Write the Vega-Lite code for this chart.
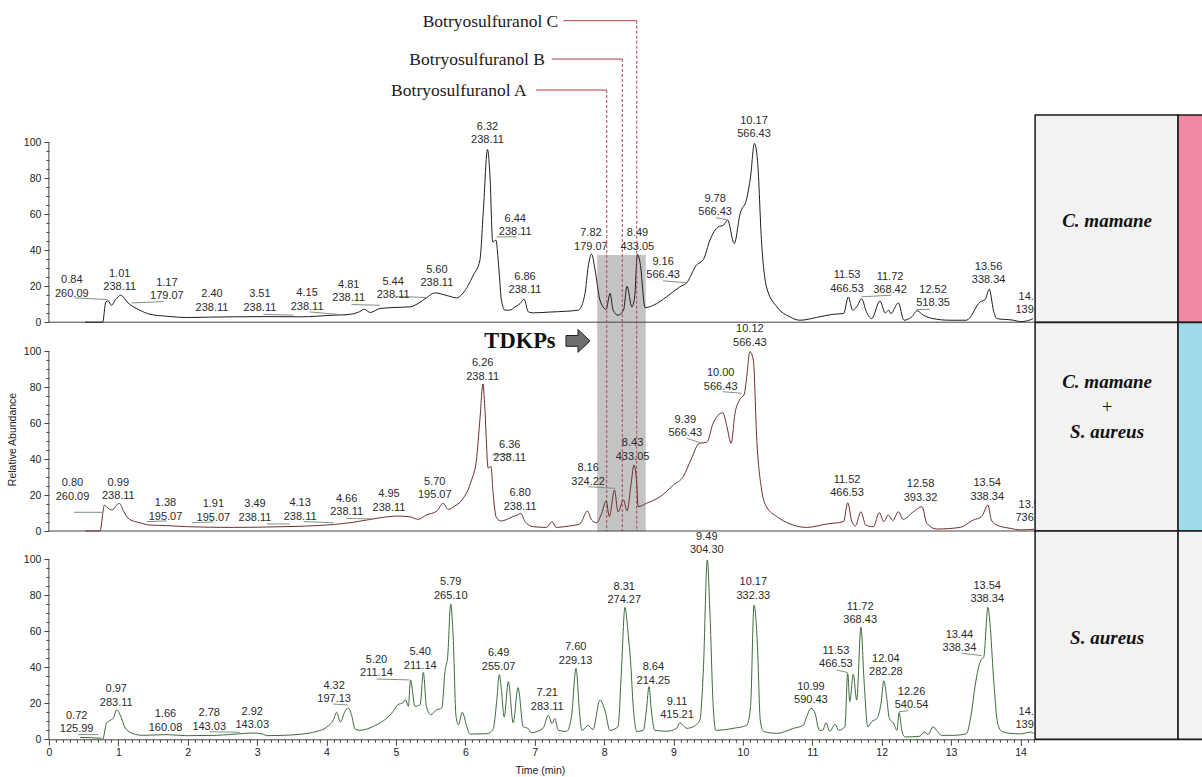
{
"$schema":"https://vega.github.io/schema/vega-lite/v6.json",
"width":1153.1,"height":739.3,
"autosize":{"type":"none"},
"padding":{"left":48.9,"top":0,"right":0,"bottom":37.7},
"background":"#ffffff",
"config":{"view":{"stroke":null},"text":{"font":"Liberation Sans"},"axis":{"labelFont":"Liberation Sans","titleFont":"Liberation Sans"}},
"data":{"values":[{}]},
"datasets":{
"p1":[{"t":0.52,"v":0},{"t":0.775,"v":0},{"t":0.82,"v":11.3},{"t":0.855,"v":11.9},{"t":0.9,"v":9.4},{"t":0.96,"v":12.5},{"t":1.035,"v":15},{"t":1.14,"v":10.7},{"t":1.31,"v":6.7},{"t":1.457,"v":4.4},{"t":1.7,"v":3.3},{"t":1.985,"v":2.6},{"t":2.3,"v":2.8},{"t":2.66,"v":3.0},{"t":3.1,"v":3.1},{"t":3.62,"v":3.0},{"t":4.1,"v":3.9},{"t":4.34,"v":4.4},{"t":4.48,"v":5.9},{"t":4.545,"v":7.2},{"t":4.63,"v":5.4},{"t":4.77,"v":7.6},{"t":5.0,"v":8.2},{"t":5.2,"v":8.5},{"t":5.32,"v":10.4},{"t":5.44,"v":13.5},{"t":5.56,"v":16.3},{"t":5.68,"v":15.4},{"t":5.8,"v":14.1},{"t":5.875,"v":13.5},{"t":5.97,"v":16.3},{"t":6.115,"v":26.1},{"t":6.21,"v":34.4},{"t":6.26,"v":62},{"t":6.32,"v":96},{"t":6.356,"v":80.7},{"t":6.395,"v":44.6},{"t":6.44,"v":45.6},{"t":6.485,"v":29},{"t":6.52,"v":12.3},{"t":6.57,"v":6.7},{"t":6.64,"v":6.7},{"t":6.716,"v":8.5},{"t":6.79,"v":10.4},{"t":6.846,"v":12.8},{"t":6.91,"v":5.7},{"t":6.98,"v":5.2},{"t":7.2,"v":5.6},{"t":7.46,"v":6.1},{"t":7.63,"v":6.7},{"t":7.725,"v":16},{"t":7.77,"v":30.7},{"t":7.82,"v":37.8},{"t":7.87,"v":29},{"t":7.94,"v":12.3},{"t":8.03,"v":7.2},{"t":8.085,"v":16},{"t":8.13,"v":6.7},{"t":8.2,"v":3.9},{"t":8.28,"v":6.7},{"t":8.33,"v":20},{"t":8.4,"v":8.5},{"t":8.44,"v":14},{"t":8.48,"v":37.8},{"t":8.52,"v":32.6},{"t":8.59,"v":8.1},{"t":8.71,"v":9.4},{"t":8.9,"v":14.1},{"t":9.09,"v":19.6},{"t":9.19,"v":21.9},{"t":9.33,"v":31.7},{"t":9.43,"v":34.8},{"t":9.525,"v":45.6},{"t":9.645,"v":53},{"t":9.72,"v":53.9},{"t":9.78,"v":56.7},{"t":9.875,"v":43.7},{"t":9.96,"v":60.4},{"t":10.055,"v":68.7},{"t":10.11,"v":80.7},{"t":10.165,"v":99.3},{"t":10.21,"v":90},{"t":10.27,"v":43.7},{"t":10.34,"v":19.6},{"t":10.49,"v":8.5},{"t":10.68,"v":2.9},{"t":10.82,"v":1.1},{"t":11.06,"v":2.6},{"t":11.3,"v":4.4},{"t":11.45,"v":4.8},{"t":11.52,"v":14},{"t":11.58,"v":6.7},{"t":11.64,"v":8.5},{"t":11.71,"v":13},{"t":11.78,"v":5.7},{"t":11.855,"v":2},{"t":11.975,"v":11.8},{"t":12.05,"v":5.2},{"t":12.1,"v":6.7},{"t":12.13,"v":4.8},{"t":12.24,"v":10.7},{"t":12.32,"v":1.1},{"t":12.43,"v":2.9},{"t":12.51,"v":6.3},{"t":12.6,"v":3.9},{"t":12.74,"v":2},{"t":12.98,"v":1.1},{"t":13.22,"v":1.1},{"t":13.42,"v":11.3},{"t":13.49,"v":12.6},{"t":13.55,"v":18.3},{"t":13.61,"v":6.7},{"t":13.66,"v":2},{"t":13.9,"v":1.1},{"t":14.0,"v":0.3},{"t":14.1,"v":0.8},{"t":14.18,"v":2}],
"p2":[{"t":0.52,"v":0},{"t":0.736,"v":0},{"t":0.8,"v":14.4},{"t":0.83,"v":13.5},{"t":0.905,"v":11.7},{"t":1.015,"v":15.4},{"t":1.08,"v":10.7},{"t":1.16,"v":6.5},{"t":1.31,"v":4.6},{"t":1.457,"v":3.3},{"t":1.7,"v":3.0},{"t":1.985,"v":2.4},{"t":2.65,"v":2.0},{"t":3.37,"v":2.4},{"t":3.86,"v":3.0},{"t":4.34,"v":4.6},{"t":4.58,"v":6.1},{"t":4.82,"v":7.6},{"t":5.01,"v":8.3},{"t":5.2,"v":7.9},{"t":5.32,"v":6.5},{"t":5.44,"v":8.9},{"t":5.59,"v":11.1},{"t":5.68,"v":15.4},{"t":5.755,"v":12},{"t":5.85,"v":13.9},{"t":5.97,"v":18.1},{"t":6.09,"v":28.3},{"t":6.16,"v":39.4},{"t":6.21,"v":61.7},{"t":6.255,"v":81.7},{"t":6.28,"v":69.3},{"t":6.33,"v":35},{"t":6.37,"v":35.9},{"t":6.4,"v":21.1},{"t":6.45,"v":7.2},{"t":6.52,"v":5.6},{"t":6.59,"v":6.3},{"t":6.69,"v":8.1},{"t":6.75,"v":8.8},{"t":6.8,"v":9.8},{"t":6.86,"v":5.2},{"t":6.98,"v":2.4},{"t":7.17,"v":2},{"t":7.25,"v":5.2},{"t":7.31,"v":2},{"t":7.5,"v":2.8},{"t":7.65,"v":3.9},{"t":7.76,"v":11.1},{"t":7.82,"v":6.1},{"t":7.89,"v":4.6},{"t":7.965,"v":9.8},{"t":8.03,"v":16.7},{"t":8.075,"v":8},{"t":8.15,"v":22.8},{"t":8.2,"v":10.7},{"t":8.28,"v":17.2},{"t":8.33,"v":11.1},{"t":8.39,"v":26.5},{"t":8.43,"v":36.7},{"t":8.47,"v":26.5},{"t":8.49,"v":13.5},{"t":8.61,"v":15.4},{"t":8.81,"v":19.1},{"t":9.0,"v":25.6},{"t":9.14,"v":30.2},{"t":9.26,"v":40.4},{"t":9.37,"v":48.7},{"t":9.48,"v":49.3},{"t":9.57,"v":59.8},{"t":9.71,"v":65.7},{"t":9.77,"v":57.9},{"t":9.83,"v":48.7},{"t":9.886,"v":65.4},{"t":9.95,"v":72.8},{"t":10.02,"v":76.1},{"t":10.055,"v":85.7},{"t":10.1,"v":99.6},{"t":10.15,"v":95},{"t":10.2,"v":50.6},{"t":10.27,"v":22.8},{"t":10.34,"v":13.5},{"t":10.49,"v":8},{"t":10.68,"v":3.9},{"t":10.92,"v":2},{"t":11.21,"v":3.9},{"t":11.45,"v":5.2},{"t":11.51,"v":15.7},{"t":11.57,"v":5.2},{"t":11.62,"v":2.8},{"t":11.7,"v":10.7},{"t":11.77,"v":3.3},{"t":11.88,"v":2.4},{"t":11.965,"v":10.2},{"t":12.03,"v":5.2},{"t":12.095,"v":8.9},{"t":12.16,"v":5.8},{"t":12.24,"v":10.7},{"t":12.31,"v":6.5},{"t":12.455,"v":10.7},{"t":12.58,"v":13.5},{"t":12.65,"v":4.3},{"t":12.79,"v":1.1},{"t":13.13,"v":2},{"t":13.32,"v":6.1},{"t":13.44,"v":8},{"t":13.53,"v":14.4},{"t":13.58,"v":6.1},{"t":13.66,"v":3.3},{"t":13.85,"v":1.5},{"t":14.0,"v":0.6},{"t":14.2,"v":1}],
"p3":[{"t":0.45,"v":1},{"t":0.74,"v":0.6},{"t":0.775,"v":0},{"t":0.83,"v":9},{"t":0.88,"v":10.5},{"t":0.93,"v":11.8},{"t":0.977,"v":16.4},{"t":1.025,"v":13.7},{"t":1.1,"v":6.3},{"t":1.216,"v":3.1},{"t":1.36,"v":2.2},{"t":1.7,"v":2.6},{"t":1.985,"v":2},{"t":2.42,"v":2.2},{"t":2.75,"v":3.1},{"t":2.945,"v":3.5},{"t":3.09,"v":2.8},{"t":3.14,"v":2},{"t":3.38,"v":2.2},{"t":3.62,"v":2.8},{"t":3.86,"v":4.4},{"t":4.0,"v":6.7},{"t":4.1,"v":10.9},{"t":4.146,"v":15},{"t":4.2,"v":9.6},{"t":4.266,"v":15.5},{"t":4.31,"v":17.4},{"t":4.36,"v":13.7},{"t":4.41,"v":5.7},{"t":4.48,"v":5},{"t":4.675,"v":7.2},{"t":4.96,"v":15.5},{"t":5.03,"v":19.3},{"t":5.1,"v":20.2},{"t":5.14,"v":22},{"t":5.18,"v":18.3},{"t":5.21,"v":33},{"t":5.275,"v":18.3},{"t":5.35,"v":19.3},{"t":5.395,"v":37.1},{"t":5.44,"v":18.3},{"t":5.5,"v":13.7},{"t":5.59,"v":16.4},{"t":5.66,"v":17.4},{"t":5.71,"v":38.6},{"t":5.746,"v":46},{"t":5.79,"v":75.2},{"t":5.825,"v":57},{"t":5.866,"v":12.8},{"t":5.9,"v":8.1},{"t":5.957,"v":15},{"t":6.02,"v":7.2},{"t":6.07,"v":2.9},{"t":6.31,"v":3.1},{"t":6.4,"v":5.4},{"t":6.45,"v":20.2},{"t":6.49,"v":35.9},{"t":6.52,"v":27.6},{"t":6.56,"v":12.3},{"t":6.62,"v":32},{"t":6.69,"v":9.2},{"t":6.76,"v":28.7},{"t":6.835,"v":7},{"t":6.9,"v":6.1},{"t":6.95,"v":3.7},{"t":7.12,"v":6.1},{"t":7.196,"v":13.4},{"t":7.25,"v":8.8},{"t":7.29,"v":11.5},{"t":7.34,"v":5},{"t":7.46,"v":4.4},{"t":7.53,"v":12.6},{"t":7.595,"v":39.4},{"t":7.645,"v":15.5},{"t":7.68,"v":5},{"t":7.77,"v":7.7},{"t":7.84,"v":5.4},{"t":7.94,"v":21.8},{"t":8.01,"v":16.3},{"t":8.085,"v":5},{"t":8.2,"v":7},{"t":8.25,"v":38.5},{"t":8.3,"v":73.3},{"t":8.35,"v":57},{"t":8.38,"v":44},{"t":8.42,"v":18.1},{"t":8.47,"v":4.4},{"t":8.565,"v":5},{"t":8.61,"v":16.3},{"t":8.647,"v":29.3},{"t":8.68,"v":16.3},{"t":8.73,"v":5},{"t":8.9,"v":4.5},{"t":9.045,"v":6.1},{"t":9.09,"v":9.2},{"t":9.19,"v":6.1},{"t":9.285,"v":7},{"t":9.38,"v":10.7},{"t":9.43,"v":38.5},{"t":9.487,"v":99.6},{"t":9.525,"v":70},{"t":9.57,"v":20},{"t":9.61,"v":5},{"t":9.86,"v":6.1},{"t":10.055,"v":7.8},{"t":10.11,"v":18.1},{"t":10.16,"v":74.6},{"t":10.21,"v":51.5},{"t":10.25,"v":10.7},{"t":10.295,"v":4.4},{"t":10.49,"v":3.3},{"t":10.73,"v":6.1},{"t":10.87,"v":7.8},{"t":10.92,"v":12.6},{"t":10.98,"v":17.2},{"t":11.04,"v":14.4},{"t":11.1,"v":5},{"t":11.15,"v":5},{"t":11.197,"v":9.2},{"t":11.25,"v":4.4},{"t":11.33,"v":8.3},{"t":11.38,"v":5},{"t":11.47,"v":7},{"t":11.51,"v":36.6},{"t":11.54,"v":20.9},{"t":11.59,"v":36.1},{"t":11.64,"v":21.8},{"t":11.7,"v":62.2},{"t":11.75,"v":29.4},{"t":11.8,"v":7},{"t":11.855,"v":9.8},{"t":11.93,"v":11.6},{"t":11.99,"v":20},{"t":12.03,"v":32.5},{"t":12.07,"v":23.7},{"t":12.11,"v":11.6},{"t":12.17,"v":9},{"t":12.22,"v":5},{"t":12.25,"v":14.8},{"t":12.29,"v":5},{"t":12.335,"v":1.3},{"t":12.55,"v":1.7},{"t":12.61,"v":4.1},{"t":12.67,"v":2.8},{"t":12.74,"v":7},{"t":12.79,"v":5},{"t":12.86,"v":2.2},{"t":13.03,"v":2.2},{"t":13.22,"v":3.1},{"t":13.29,"v":14.1},{"t":13.35,"v":30.7},{"t":13.41,"v":42},{"t":13.44,"v":44.6},{"t":13.47,"v":45.6},{"t":13.53,"v":73.3},{"t":13.56,"v":64.4},{"t":13.61,"v":34.8},{"t":13.67,"v":9},{"t":13.73,"v":4.4},{"t":13.85,"v":3.3},{"t":14.0,"v":3},{"t":14.15,"v":4},{"t":14.2,"v":3}],
"lab1":[{"t":0.33,"v":23.3,"rt":"0.84","mz":"260.09"},{"t":1.02,"v":26.7,"rt":"1.01","mz":"238.11"},{"t":1.7,"v":21.8,"rt":"1.17","mz":"179.07"},{"t":2.35,"v":15.4,"rt":"2.40","mz":"238.11"},{"t":3.04,"v":15.4,"rt":"3.51","mz":"238.11"},{"t":3.72,"v":16.1,"rt":"4.15","mz":"238.11"},{"t":4.32,"v":20.6,"rt":"4.81","mz":"238.11"},{"t":4.96,"v":22.4,"rt":"5.44","mz":"238.11"},{"t":5.59,"v":28.9,"rt":"5.60","mz":"238.11"},{"t":6.32,"v":108.5,"rt":"6.32","mz":"238.11"},{"t":6.72,"v":57.6,"rt":"6.44","mz":"238.11"},{"t":6.86,"v":25.2,"rt":"6.86","mz":"238.11"},{"t":7.81,"v":49.3,"rt":"7.82","mz":"179.07"},{"t":8.48,"v":49.3,"rt":"8.49","mz":"433.05"},{"t":8.85,"v":33.5,"rt":"9.16","mz":"566.43"},{"t":9.6,"v":68.7,"rt":"9.78","mz":"566.43"},{"t":10.16,"v":111.7,"rt":"10.17","mz":"566.43"},{"t":11.5,"v":26.1,"rt":"11.53","mz":"466.53"},{"t":12.12,"v":25.2,"rt":"11.72","mz":"368.42"},{"t":12.74,"v":17.8,"rt":"12.52","mz":"518.35"},{"t":13.54,"v":30.7,"rt":"13.56","mz":"338.34"},{"t":14.17,"v":14.0,"rt":"14.19","mz":"139.10"}],
"lab2":[{"t":0.34,"v":26.5,"rt":"0.80","mz":"260.09"},{"t":1.0,"v":26.8,"rt":"0.99","mz":"238.11"},{"t":1.68,"v":15.4,"rt":"1.38","mz":"195.07"},{"t":2.37,"v":14.8,"rt":"1.91","mz":"195.07"},{"t":2.97,"v":14.8,"rt":"3.49","mz":"238.11"},{"t":3.62,"v":15.4,"rt":"4.13","mz":"238.11"},{"t":4.29,"v":17.8,"rt":"4.66","mz":"238.11"},{"t":4.9,"v":20.4,"rt":"4.95","mz":"238.11"},{"t":5.56,"v":27.4,"rt":"5.70","mz":"195.07"},{"t":6.25,"v":93.2,"rt":"6.26","mz":"238.11"},{"t":6.64,"v":47.8,"rt":"6.36","mz":"238.11"},{"t":6.79,"v":20.9,"rt":"6.80","mz":"238.11"},{"t":7.77,"v":34.8,"rt":"8.16","mz":"324.22"},{"t":8.41,"v":48.7,"rt":"8.43","mz":"433.05"},{"t":9.17,"v":61.7,"rt":"9.39","mz":"566.43"},{"t":9.68,"v":87.6,"rt":"10.00","mz":"566.43"},{"t":10.1,"v":112,"rt":"10.12","mz":"566.43"},{"t":11.5,"v":28.3,"rt":"11.52","mz":"466.53"},{"t":12.56,"v":25.9,"rt":"12.58","mz":"393.32"},{"t":13.52,"v":26.5,"rt":"13.54","mz":"338.34"},{"t":14.17,"v":14.4,"rt":"13.98","mz":"736.52"}],
"lab3":[{"t":0.4,"v":12.9,"rt":"0.72","mz":"125.99"},{"t":0.97,"v":27.8,"rt":"0.97","mz":"283.11"},{"t":1.68,"v":13.9,"rt":"1.66","mz":"160.08"},{"t":2.31,"v":14.4,"rt":"2.78","mz":"143.03"},{"t":2.93,"v":15.3,"rt":"2.92","mz":"143.03"},{"t":4.11,"v":29.8,"rt":"4.32","mz":"197.13"},{"t":4.72,"v":44.1,"rt":"5.20","mz":"211.14"},{"t":5.35,"v":48.3,"rt":"5.40","mz":"211.14"},{"t":5.79,"v":87.2,"rt":"5.79","mz":"265.10"},{"t":6.48,"v":47.8,"rt":"6.49","mz":"255.07"},{"t":7.18,"v":25.6,"rt":"7.21","mz":"283.11"},{"t":7.59,"v":51.1,"rt":"7.60","mz":"229.13"},{"t":8.29,"v":84.8,"rt":"8.31","mz":"274.27"},{"t":8.71,"v":40,"rt":"8.64","mz":"214.25"},{"t":9.05,"v":20.9,"rt":"9.11","mz":"415.21"},{"t":9.48,"v":112.6,"rt":"9.49","mz":"304.30"},{"t":10.15,"v":87.2,"rt":"10.17","mz":"332.33"},{"t":10.98,"v":29.2,"rt":"10.99","mz":"590.43"},{"t":11.34,"v":49.2,"rt":"11.53","mz":"466.53"},{"t":11.69,"v":73.7,"rt":"11.72","mz":"368.43"},{"t":12.06,"v":44.6,"rt":"12.04","mz":"282.28"},{"t":12.43,"v":26.4,"rt":"12.26","mz":"540.54"},{"t":13.12,"v":57.9,"rt":"13.44","mz":"338.34"},{"t":13.52,"v":85.3,"rt":"13.54","mz":"338.34"},{"t":14.17,"v":15.2,"rt":"14.19","mz":"139.10"}],
"ld1":[{"t":0.376,"v":13.5,"t2":0.841,"v2":12.6},{"t":1.193,"v":10.7,"t2":1.658,"v2":11.5},{"t":3.09,"v":4.4,"t2":3.52,"v2":3.9},{"t":3.76,"v":5.7,"t2":4.29,"v2":3.9},{"t":4.36,"v":9.8,"t2":4.77,"v2":9.4},{"t":4.99,"v":14.4,"t2":5.44,"v2":13.7},{"t":6.45,"v":47.4,"t2":6.74,"v2":47.4},{"t":8.85,"v":23.0,"t2":9.19,"v2":21.9},{"t":9.61,"v":58.1,"t2":9.79,"v2":56.7},{"t":11.71,"v":14.1,"t2":12.14,"v2":15},{"t":12.5,"v":7.0,"t2":12.7,"v2":7.2}],
"ld2":[{"t":0.36,"v":10.4,"t2":0.78,"v2":10.4},{"t":1.41,"v":5.2,"t2":1.7,"v2":5.6},{"t":2.06,"v":4.6,"t2":2.37,"v2":5.0},{"t":3.14,"v":3.9,"t2":3.47,"v2":3.9},{"t":3.67,"v":5.2,"t2":4.1,"v2":4.6},{"t":4.29,"v":7.0,"t2":4.65,"v2":6.7},{"t":6.39,"v":42.2,"t2":6.67,"v2":42.6},{"t":7.77,"v":24.6,"t2":8.16,"v2":23.7},{"t":9.19,"v":51.5,"t2":9.38,"v2":49.1},{"t":9.71,"v":77.4,"t2":9.98,"v2":76.5}],
"ld3":[{"t":0.42,"v":2.6,"t2":0.71,"v2":2.6},{"t":2.32,"v":4.2,"t2":2.75,"v2":3.9},{"t":4.1,"v":19.6,"t2":4.31,"v2":19.0},{"t":4.72,"v":33.5,"t2":5.19,"v2":33.0},{"t":11.35,"v":38.5,"t2":11.51,"v2":37.1},{"t":12.25,"v":15.3,"t2":12.38,"v2":15.9},{"t":13.15,"v":47.8,"t2":13.44,"v2":46.5}],
"ann":[{"label":"Botryosulfuranol A","tx":6.885,"ty":128.6,"x1":7.019,"x2":8.038,"y":129.0},{"label":"Botryosulfuranol B","tx":7.148,"ty":145.7,"x1":7.245,"x2":8.262,"y":146.2},{"label":"Botryosulfuranol C","tx":7.34,"ty":166.9,"x1":7.412,"x2":8.47,"y":167.5}]
},
"layer":[
{"layer":[
 {"mark":{"type":"rect","color":"#c4c4c4"},"encoding":{"x":{"datum":7.9,"type":"quantitative","scale":{"domain":[0,16.615],"nice":false,"zero":false},"axis":null},"x2":{"datum":8.6},"y":{"datum":37.3,"type":"quantitative","scale":{"domain":[-231.72,179.0],"nice":false,"zero":false},"axis":null},"y2":{"datum":-116.1}}},
 {"mark":{"type":"rule","color":"#444444","strokeWidth":1},"encoding":{"x":{"datum":0,"type":"quantitative","axis":null},"x2":{"datum":14.21},"y":{"datum":0,"type":"quantitative","axis":null}}},
 {"mark":{"type":"rule","color":"#444444","strokeWidth":1},"encoding":{"x":{"datum":0,"type":"quantitative","axis":null},"y":{"datum":0,"type":"quantitative","axis":null},"y2":{"datum":100}}},
 {"data":{"name":"p1"},"mark":{"type":"line","color":"#1e1e1e","strokeWidth":1,"interpolate":"monotone"},"encoding":{"x":{"field":"t","type":"quantitative","axis":null},"y":{"field":"v","type":"quantitative","axis":null}}},
 {"data":{"name":"ld1"},"mark":{"type":"rule","color":"#7d927d","strokeWidth":1},"encoding":{"x":{"field":"t","type":"quantitative","axis":null},"x2":{"field":"t2"},"y":{"field":"v","type":"quantitative","axis":null},"y2":{"field":"v2"}}},
 {"data":{"name":"lab1"},"mark":{"type":"text","fontSize":11,"color":"#2a2a2a","align":"center","baseline":"middle"},"encoding":{"x":{"field":"t","type":"quantitative","axis":null},"y":{"field":"v","type":"quantitative","axis":null},"text":{"field":"rt"}}},
 {"data":{"name":"lab1"},"mark":{"type":"text","fontSize":11,"color":"#2a2a2a","align":"center","baseline":"middle","dy":13.3},"encoding":{"x":{"field":"t","type":"quantitative","axis":null},"y":{"field":"v","type":"quantitative","axis":null},"text":{"field":"mz"}}},
 {"data":{"name":"ann"},"mark":{"type":"rule","color":"#a8404c","strokeWidth":1},"encoding":{"x":{"field":"x1","type":"quantitative","axis":null},"x2":{"field":"x2"},"y":{"field":"y","type":"quantitative","axis":null}}},
 {"data":{"name":"ann"},"mark":{"type":"rule","color":"#b04050","strokeWidth":1,"strokeDash":[3,2]},"encoding":{"x":{"field":"x2","type":"quantitative","axis":null},"y":{"field":"y","type":"quantitative","axis":null},"y2":{"datum":-116.1}}},
 {"data":{"name":"ann"},"mark":{"type":"text","font":"Liberation Serif","fontSize":17.5,"color":"#1a1a1a","align":"right","baseline":"middle"},"encoding":{"x":{"field":"tx","type":"quantitative","axis":null},"y":{"field":"ty","type":"quantitative","axis":null},"text":{"field":"label"}}},
 {"mark":{"type":"rect","fill":"#f2f2f2","stroke":"#1a1a1a","strokeWidth":1.5},"encoding":{"x":{"datum":14.21,"type":"quantitative","axis":null},"x2":{"datum":16.27},"y":{"datum":0,"type":"quantitative","axis":null},"y2":{"datum":115.1}}},
 {"mark":{"type":"rect","fill":"#f08aa3","stroke":"#1a1a1a","strokeWidth":1.5},"encoding":{"x":{"datum":16.27,"type":"quantitative","axis":null},"x2":{"datum":16.8},"y":{"datum":0,"type":"quantitative","axis":null},"y2":{"datum":115.1}}},
 {"mark":{"type":"text","font":"Liberation Serif","fontSize":19,"fontStyle":"italic","fontWeight":"bold","color":"#111111","align":"center","baseline":"middle"},"encoding":{"x":{"datum":15.247,"type":"quantitative","axis":null},"y":{"datum":56.2,"type":"quantitative","axis":null},"text":{"value":"C. mamane"}}}
]},
{"layer":[
 {"mark":{"type":"rule","color":"#444444","strokeWidth":1},"encoding":{"x":{"datum":0,"type":"quantitative","scale":{"domain":[0,16.615],"nice":false,"zero":false},"axis":null},"x2":{"datum":14.21},"y":{"datum":0,"type":"quantitative","scale":{"domain":[-115.72,295.0],"nice":false,"zero":false},"axis":null}}},
 {"mark":{"type":"rule","color":"#444444","strokeWidth":1},"encoding":{"x":{"datum":0,"type":"quantitative","axis":null},"y":{"datum":0,"type":"quantitative","axis":null},"y2":{"datum":100}}},
 {"data":{"name":"p2"},"mark":{"type":"line","color":"#6a3030","strokeWidth":1,"interpolate":"monotone"},"encoding":{"x":{"field":"t","type":"quantitative","axis":null},"y":{"field":"v","type":"quantitative","axis":null}}},
 {"data":{"name":"ld2"},"mark":{"type":"rule","color":"#7d927d","strokeWidth":1},"encoding":{"x":{"field":"t","type":"quantitative","axis":null},"x2":{"field":"t2"},"y":{"field":"v","type":"quantitative","axis":null},"y2":{"field":"v2"}}},
 {"data":{"name":"lab2"},"mark":{"type":"text","fontSize":11,"color":"#2a2a2a","align":"center","baseline":"middle"},"encoding":{"x":{"field":"t","type":"quantitative","axis":null},"y":{"field":"v","type":"quantitative","axis":null},"text":{"field":"rt"}}},
 {"data":{"name":"lab2"},"mark":{"type":"text","fontSize":11,"color":"#2a2a2a","align":"center","baseline":"middle","dy":13.3},"encoding":{"x":{"field":"t","type":"quantitative","axis":null},"y":{"field":"v","type":"quantitative","axis":null},"text":{"field":"mz"}}},
 {"mark":{"type":"text","font":"Liberation Serif","fontSize":22.5,"fontWeight":"bold","color":"#111111","align":"center","baseline":"middle"},"encoding":{"x":{"datum":6.788,"type":"quantitative","axis":null},"y":{"datum":105.7,"type":"quantitative","axis":null},"text":{"value":"TDKPs"}}},
 {"mark":{"type":"point","shape":"M-1,-0.45L0,-0.45L0,-0.95L1,0L0,0.95L0,0.45L-1,0.45Z","size":580,"filled":true,"fill":"#6e6e6e","stroke":"#222222","strokeWidth":1,"opacity":1},"encoding":{"x":{"datum":7.624,"type":"quantitative","axis":null},"y":{"datum":105.6,"type":"quantitative","axis":null}}},
 {"mark":{"type":"rect","fill":"#f2f2f2","stroke":"#1a1a1a","strokeWidth":1.5},"encoding":{"x":{"datum":14.21,"type":"quantitative","axis":null},"x2":{"datum":16.27},"y":{"datum":0,"type":"quantitative","axis":null},"y2":{"datum":115.8}}},
 {"mark":{"type":"rect","fill":"#9fdcea","stroke":"#1a1a1a","strokeWidth":1.5},"encoding":{"x":{"datum":16.27,"type":"quantitative","axis":null},"x2":{"datum":16.8},"y":{"datum":0,"type":"quantitative","axis":null},"y2":{"datum":115.8}}},
 {"mark":{"type":"text","font":"Liberation Serif","fontSize":19,"fontStyle":"italic","fontWeight":"bold","color":"#111111","align":"center","baseline":"middle"},"encoding":{"x":{"datum":15.247,"type":"quantitative","axis":null},"y":{"datum":82.8,"type":"quantitative","axis":null},"text":{"value":"C. mamane"}}},
 {"mark":{"type":"text","font":"Liberation Serif","fontSize":19,"color":"#111111","align":"center","baseline":"middle"},"encoding":{"x":{"datum":15.247,"type":"quantitative","axis":null},"y":{"datum":68.9,"type":"quantitative","axis":null},"text":{"value":"+"}}},
 {"mark":{"type":"text","font":"Liberation Serif","fontSize":19,"fontStyle":"italic","fontWeight":"bold","color":"#111111","align":"center","baseline":"middle"},"encoding":{"x":{"datum":15.247,"type":"quantitative","axis":null},"y":{"datum":55.0,"type":"quantitative","axis":null},"text":{"value":"S. aureus"}}}
]},
{"layer":[
 {"mark":{"type":"rule","color":"#444444","strokeWidth":1},"encoding":{"x":{"datum":0,"type":"quantitative","scale":{"domain":[0,16.615],"nice":false,"zero":false},"axis":null},"y":{"datum":0,"type":"quantitative","scale":{"domain":[0,410.72],"nice":false,"zero":false},"axis":null},"y2":{"datum":100}}},
 {"data":{"name":"p3"},"mark":{"type":"line","color":"#3b6b3b","strokeWidth":1,"interpolate":"monotone"},"encoding":{"x":{"field":"t","type":"quantitative","axis":null},"y":{"field":"v","type":"quantitative","axis":null}}},
 {"data":{"name":"ld3"},"mark":{"type":"rule","color":"#7d927d","strokeWidth":1},"encoding":{"x":{"field":"t","type":"quantitative","axis":null},"x2":{"field":"t2"},"y":{"field":"v","type":"quantitative","axis":null},"y2":{"field":"v2"}}},
 {"data":{"name":"lab3"},"mark":{"type":"text","fontSize":11,"color":"#2a2a2a","align":"center","baseline":"middle"},"encoding":{"x":{"field":"t","type":"quantitative","axis":null},"y":{"field":"v","type":"quantitative","axis":null},"text":{"field":"rt"}}},
 {"data":{"name":"lab3"},"mark":{"type":"text","fontSize":11,"color":"#2a2a2a","align":"center","baseline":"middle","dy":13.3},"encoding":{"x":{"field":"t","type":"quantitative","axis":null},"y":{"field":"v","type":"quantitative","axis":null},"text":{"field":"mz"}}},
 {"mark":{"type":"rect","fill":"#f2f2f2","stroke":"#1a1a1a","strokeWidth":1.5},"encoding":{"x":{"datum":14.21,"type":"quantitative","axis":null},"x2":{"datum":16.27},"y":{"datum":0,"type":"quantitative","axis":null},"y2":{"datum":115.7}}},
 {"mark":{"type":"rect","fill":"#f2f2f2","stroke":"#1a1a1a","strokeWidth":1.5},"encoding":{"x":{"datum":16.27,"type":"quantitative","axis":null},"x2":{"datum":16.8},"y":{"datum":0,"type":"quantitative","axis":null},"y2":{"datum":115.7}}},
 {"mark":{"type":"text","font":"Liberation Serif","fontSize":19,"fontStyle":"italic","fontWeight":"bold","color":"#111111","align":"center","baseline":"middle"},"encoding":{"x":{"datum":15.247,"type":"quantitative","axis":null},"y":{"datum":56.3,"type":"quantitative","axis":null},"text":{"value":"S. aureus"}}}
]},
{"data":{"name":"p1"},"mark":{"type":"point","opacity":0},"encoding":{"x":{"field":"t","type":"quantitative","scale":{"domain":[0,16.615],"nice":false,"zero":false},"axis":null},"y":{"field":"v","type":"quantitative","scale":{"domain":[-231.72,179.0],"nice":false,"zero":false},"axis":{"orient":"left","values":[0,20,40,60,80,100],"domain":false,"grid":false,"tickSize":5,"tickColor":"#444444","labelFontSize":10.5,"labelColor":"#222222","labelPadding":3,"title":null}}}},
{"data":{"name":"p1"},"mark":{"type":"point","opacity":0},"encoding":{"x":{"field":"t","type":"quantitative","scale":{"domain":[0,16.615],"nice":false,"zero":false},"axis":null},"y":{"field":"v","type":"quantitative","scale":{"domain":[-231.72,179.0],"nice":false,"zero":false},"axis":{"orient":"left","values":[5,10,15,25,30,35,45,50,55,65,70,75,85,90,95],"domain":false,"grid":false,"tickSize":3,"tickColor":"#444444","labels":false,"title":null}}}},
{"data":{"name":"p2"},"mark":{"type":"point","opacity":0},"encoding":{"x":{"field":"t","type":"quantitative","scale":{"domain":[0,16.615],"nice":false,"zero":false},"axis":null},"y":{"field":"v","type":"quantitative","scale":{"domain":[-115.72,295.0],"nice":false,"zero":false},"axis":{"orient":"left","values":[0,20,40,60,80,100],"domain":false,"grid":false,"tickSize":5,"tickColor":"#444444","labelFontSize":10.5,"labelColor":"#222222","labelPadding":3,"title":"Relative Abundance","titleFontSize":10.5,"titleFontWeight":"normal","titleColor":"#222222","titleX":-31,"titleY":439,"titleAngle":-90,"titleAlign":"center","titleBaseline":"bottom"}}}},
{"data":{"name":"p2"},"mark":{"type":"point","opacity":0},"encoding":{"x":{"field":"t","type":"quantitative","scale":{"domain":[0,16.615],"nice":false,"zero":false},"axis":null},"y":{"field":"v","type":"quantitative","scale":{"domain":[-115.72,295.0],"nice":false,"zero":false},"axis":{"orient":"left","values":[5,10,15,25,30,35,45,50,55,65,70,75,85,90,95],"domain":false,"grid":false,"tickSize":3,"tickColor":"#444444","labels":false,"title":null}}}},
{"data":{"name":"p3"},"mark":{"type":"point","opacity":0},"encoding":{"x":{"field":"t","type":"quantitative","scale":{"domain":[0,16.615],"nice":false,"zero":false},"axis":{"orient":"bottom","values":[0,1,2,3,4,5,6,7,8,9,10,11,12,13,14],"grid":false,"tickSize":6,"tickColor":"#444444","domainColor":"#444444","labelFontSize":10.5,"labelColor":"#222222","labelPadding":2,"labelFlush":false,"title":"Time (min)","titleFontSize":10.5,"titleFontWeight":"normal","titleColor":"#222222","titleX":491,"titleY":31,"titleAlign":"center","titleBaseline":"middle"}},"y":{"field":"v","type":"quantitative","scale":{"domain":[0,410.72],"nice":false,"zero":false},"axis":{"orient":"left","values":[0,20,40,60,80,100],"domain":false,"grid":false,"tickSize":5,"tickColor":"#444444","labelFontSize":10.5,"labelColor":"#222222","labelPadding":3,"title":null}}}},
{"data":{"name":"p3"},"mark":{"type":"point","opacity":0},"encoding":{"x":{"field":"t","type":"quantitative","scale":{"domain":[0,16.615],"nice":false,"zero":false},"axis":{"orient":"bottom","values":[0.1,0.2,0.3,0.4,0.5,0.6,0.7,0.8,0.9,1.1,1.2,1.3,1.4,1.5,1.6,1.7,1.8,1.9,2.1,2.2,2.3,2.4,2.5,2.6,2.7,2.8,2.9,3.1,3.2,3.3,3.4,3.5,3.6,3.7,3.8,3.9,4.1,4.2,4.3,4.4,4.5,4.6,4.7,4.8,4.9,5.1,5.2,5.3,5.4,5.5,5.6,5.7,5.8,5.9,6.1,6.2,6.3,6.4,6.5,6.6,6.7,6.8,6.9,7.1,7.2,7.3,7.4,7.5,7.6,7.7,7.8,7.9,8.1,8.2,8.3,8.4,8.5,8.6,8.7,8.8,8.9,9.1,9.2,9.3,9.4,9.5,9.6,9.7,9.8,9.9,10.1,10.2,10.3,10.4,10.5,10.6,10.7,10.8,10.9,11.1,11.2,11.3,11.4,11.5,11.6,11.7,11.8,11.9,12.1,12.2,12.3,12.4,12.5,12.6,12.7,12.8,12.9,13.1,13.2,13.3,13.4,13.5,13.6,13.7,13.8,13.9,14.1,14.2],"domain":false,"grid":false,"tickSize":3,"tickColor":"#444444","labels":false,"title":null}},"y":{"field":"v","type":"quantitative","scale":{"domain":[0,410.72],"nice":false,"zero":false},"axis":{"orient":"left","values":[5,10,15,25,30,35,45,50,55,65,70,75,85,90,95],"domain":false,"grid":false,"tickSize":3,"tickColor":"#444444","labels":false,"title":null}}}}
],
"resolve":{"scale":{"y":"independent"},"axis":{"x":"independent","y":"independent"}}
}
